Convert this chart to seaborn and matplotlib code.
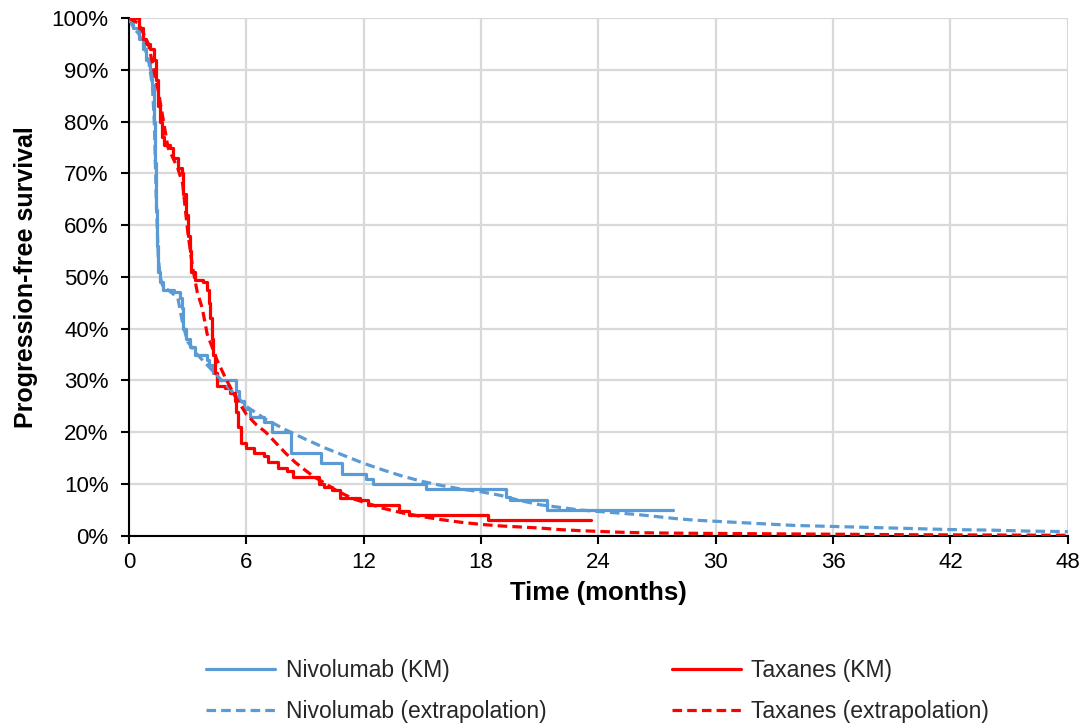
import matplotlib
matplotlib.use("Agg")
import matplotlib.pyplot as plt
import seaborn as sns
import pandas as pd
from matplotlib.ticker import FuncFormatter, MultipleLocator

# ---- data ----
niv_km_t = [0, 0.2, 0.5, 0.7, 0.9, 1.1, 1.2, 1.3, 1.35, 1.4, 1.45, 1.5, 1.6, 1.75, 2.3, 2.6,
            2.7, 2.77, 2.9, 3.1, 3.4, 4.0, 4.1, 4.3, 4.5, 5.5, 5.65, 5.9, 6.2, 6.9, 7.3, 8.3,
            9.8, 10.9, 12.1, 12.5, 15.2, 19.3, 19.5, 21.4, 27.8]
niv_km_s = [100, 98, 96, 94, 92, 90, 87, 80, 72, 63, 56, 51, 49, 47.5, 47, 46,
            44, 40, 38, 36.5, 35, 34, 33, 31.5, 30, 28, 26, 24.5, 23, 22, 20, 16,
            14, 12, 11, 10, 9, 7.5, 7, 5, 5]

tax_km_t = [0, 0.5, 0.7, 0.85, 1.1, 1.3, 1.4, 1.5, 1.6, 1.7, 1.8, 2.1, 2.25, 2.5, 2.7, 2.77,
            2.9, 3.0, 3.1, 3.2, 3.4, 3.8, 4.0, 4.1, 4.15, 4.25, 4.3, 4.4, 4.5, 4.9, 5.15,
            5.4, 5.5, 5.6, 5.75, 6.0, 6.4, 6.9, 7.1, 7.6, 8.1, 8.4, 9.7, 10.0, 10.4, 10.8,
            11.8, 12.2, 13.8, 14.3, 18.35, 23.6]
tax_km_s = [100, 98, 96, 95, 94, 92, 88, 83, 80, 77, 75.5, 75, 73, 71, 70, 66,
            62, 58, 55, 51, 49.5, 49, 47.5, 45, 42, 38, 35, 31.5, 29, 28.5, 27.5,
            26, 24, 21, 18, 17, 16, 15.5, 14.3, 13, 12.5, 11.3, 10, 9.5, 8.8, 7.3,
            7, 6, 4.7, 4, 3, 3]

niv_ext_t = [0, 0.25, 0.5, 0.75, 1, 1.2, 1.3, 1.4, 1.5, 1.6, 1.75, 2, 2.5, 2.75, 3, 3.5, 4,
             4.5, 5, 5.5, 6, 7, 8, 9, 10, 11, 12, 13, 14, 15, 16, 17, 18, 19, 20, 21, 22,
             23, 24, 25, 26, 27, 28, 29, 30, 31, 32, 33, 34, 35, 36, 38, 40, 42, 44, 46, 48]
niv_ext_s = [100, 98, 97, 95, 92, 87, 80, 65, 54, 50, 48, 47.5, 46, 41, 37.5, 35, 33,
             31, 29, 27, 25, 22.5, 20.5, 18.7, 17, 15.5, 14, 12.7, 11.5, 10.5, 9.7, 9, 8.5, 7.8, 6.8, 6, 5.5,
             5, 4.7, 4.4, 4.1, 3.7, 3.3, 3, 2.8, 2.6, 2.4, 2.2, 2.0, 1.9, 1.8, 1.6, 1.4, 1.2, 1.1, 0.9, 0.8]

tax_ext_t = [0, 0.5, 1, 1.5, 2, 2.5, 2.75, 3, 3.25, 3.5, 3.75, 4, 4.5, 5, 5.5, 6, 6.5, 7, 7.5,
             8, 8.5, 9, 9.5, 10, 10.5, 11, 11.5, 12, 13, 14, 15, 16, 17, 18, 19, 20, 21, 22,
             23, 24, 25, 26, 28, 30, 32, 36, 40, 44, 48]
tax_ext_s = [100, 99, 95, 86, 75, 71, 68, 59, 52, 47, 44, 39, 34, 30, 26.5, 23.5, 21.5, 20, 18,
             16, 14.2, 12.7, 11.3, 10.2, 9, 8, 7.1, 6.5, 5.3, 4.4, 3.7, 3.1, 2.6, 2.2, 1.9, 1.7, 1.5, 1.2,
             1.0, 0.85, 0.7, 0.6, 0.5, 0.45, 0.4, 0.3, 0.2, 0.15, 0.1]

x_ticks = [0, 6, 12, 18, 24, 30, 36, 42, 48]

BLUE = "#5B9BD5"
RED = "#FF0000"

sns.set_theme(style="whitegrid")
plt.rcParams["font.family"] = ["Liberation Sans", "DejaVu Sans"]

fig, ax = plt.subplots(figsize=(10.83, 7.25), dpi=100)
fig.subplots_adjust(left=0.119, right=0.986, top=0.975, bottom=0.261)

lw = 2.3
sns.lineplot(x=niv_km_t, y=niv_km_s, ax=ax, color=BLUE, lw=lw, drawstyle="steps-post",
             label="Nivolumab (KM)", zorder=3)
sns.lineplot(x=niv_ext_t, y=niv_ext_s, ax=ax, color=BLUE, lw=lw, linestyle=(0, (3, 1.6)),
             label="Nivolumab (extrapolation)", zorder=4)
sns.lineplot(x=tax_km_t, y=tax_km_s, ax=ax, color=RED, lw=lw, drawstyle="steps-post",
             label="Taxanes (KM)", zorder=3)
sns.lineplot(x=tax_ext_t, y=tax_ext_s, ax=ax, color=RED, lw=lw, linestyle=(0, (3, 1.6)),
             label="Taxanes (extrapolation)", zorder=4)

ax.set_xlim(0, 48)
ax.set_ylim(0, 100)
ax.set_xticks(x_ticks)
ax.yaxis.set_major_locator(MultipleLocator(10))
ax.yaxis.set_major_formatter(FuncFormatter(lambda v, p: f"{int(round(v))}%"))

ax.grid(True, color="#D9D9D9", lw=1.6)
ax.set_axisbelow(True)
for s in ["top", "right"]:
    ax.spines[s].set_visible(False)
for s in ["left", "bottom"]:
    ax.spines[s].set_visible(True)
    ax.spines[s].set_color("black")
    ax.spines[s].set_linewidth(1.5)
ax.tick_params(axis="both", which="major", direction="out", length=5.5, width=1.5,
               color="black", labelsize=16, labelcolor="black", left=True, bottom=True)
ax.tick_params(axis="y", pad=9)
ax.tick_params(axis="x", pad=6)

ax.set_xlabel("Time (months)", fontsize=18.5, fontweight="bold", color="black", labelpad=6)
ax.set_ylabel("Progression-free survival", fontsize=18, fontweight="bold", color="black", labelpad=10)

ax.get_legend().remove()
handles, labels = ax.get_legend_handles_labels()
fig.legend(handles, labels, loc="center", bbox_to_anchor=(0.552, 0.047), ncol=2,
           frameon=False, fontsize=16.5, handlelength=3.0, columnspacing=5.5,
           labelspacing=0.8, handletextpad=0.45)

fig.savefig("out.png", dpi=100)
